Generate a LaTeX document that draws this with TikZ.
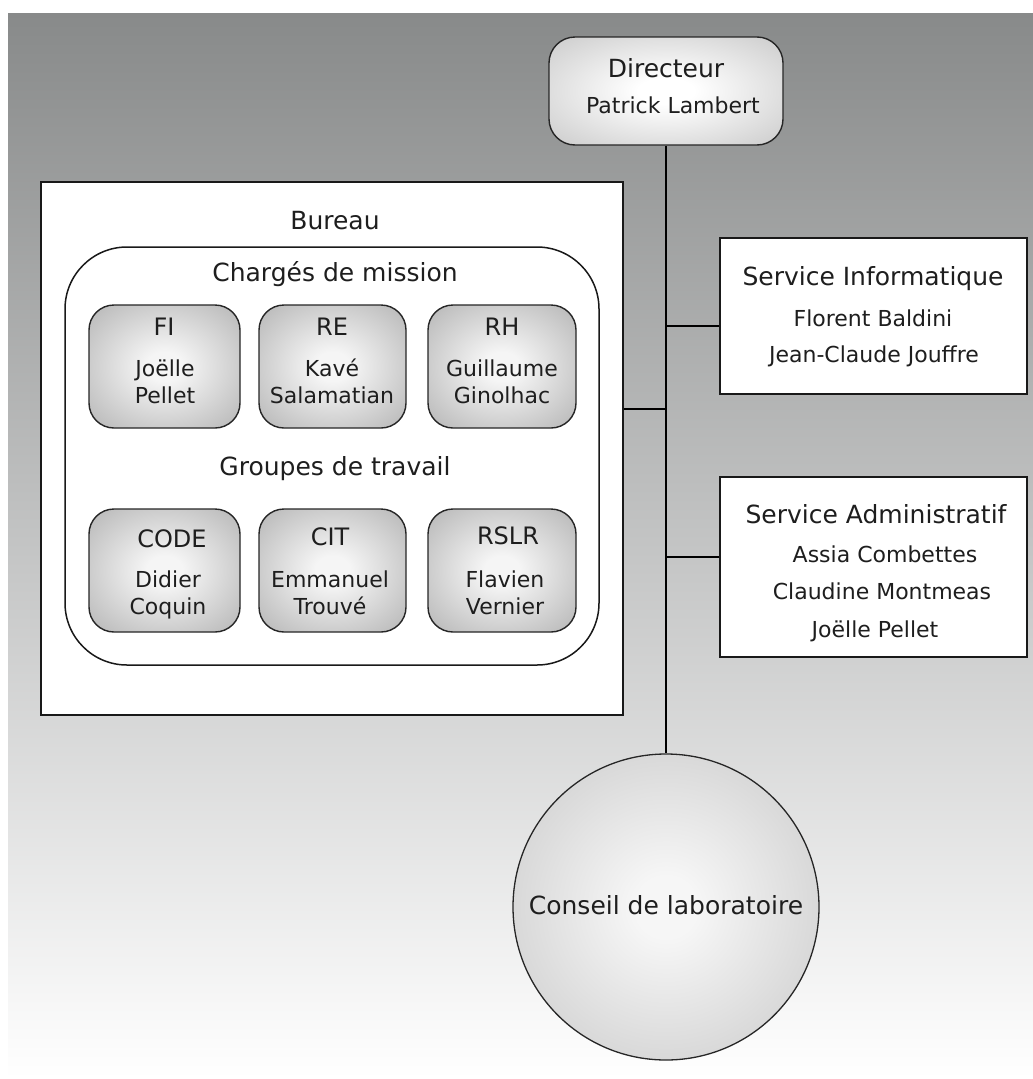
\documentclass[tikz,border=0pt]{standalone}
\usepackage{fontspec}
\setmainfont{DejaVu Sans}
\newcommand\fsz[1]{\fontsize{#1}{#1}\selectfont}
\definecolor{bgtop}{RGB}{136,138,138}
\definecolor{boxedge}{RGB}{150,150,150}
\definecolor{boxcorner}{RGB}{130,130,130}
\definecolor{boxmid}{RGB}{245,245,245}
\definecolor{diredge}{RGB}{178,178,178}
\definecolor{circedge}{RGB}{180,180,180}
\definecolor{circmid}{RGB}{246,246,246}
\definecolor{ink}{RGB}{30,30,30}
\pgfdeclareradialshading{boxrad}{\pgfpoint{0bp}{0bp}}{color(0bp)=(boxmid); color(6bp)=(boxmid); color(50bp)=(boxedge); color(72bp)=(boxcorner)}
\pgfdeclareradialshading{dirrad}{\pgfpoint{0bp}{0bp}}{color(0bp)=(white); color(6bp)=(white); color(50bp)=(diredge); color(72bp)=(boxedge)}
\pgfdeclareradialshading{circrad}{\pgfpoint{0bp}{0bp}}{color(0bp)=(circmid); color(5bp)=(circmid); color(50bp)=(circedge); color(72bp)=(circedge)}
\tikzset{
  shadedbox/.style={draw=black!85, line width=1.4pt, rounded corners=25pt, shading=boxrad,
    minimum width=151pt, minimum height=123pt, inner sep=0pt},
  dirbox/.style={draw=black!85, line width=1.4pt, rounded corners=26pt, shading=dirrad,
    minimum width=234pt, minimum height=108pt, inner sep=0pt},
  whitebox/.style={draw=black!90, line width=2pt, fill=white, inner sep=0pt},
  conn/.style={draw=black, line width=1.8pt},
  head/.style={inner sep=0pt, anchor=mid, text=ink, font=\fsz{25}},
  gname/.style={inner sep=0pt, anchor=mid, text=ink, font=\fsz{22}},
  abbr/.style={inner sep=0pt, anchor=mid, text=ink, font=\fsz{24}},
}
\begin{document}
\begin{tikzpicture}[x=1pt,y=-1pt]
\useasboundingbox (0,0) rectangle (1033,1079);
\shade[top color=bgtop, bottom color=white] (8,13) rectangle (1033,1079);

% Directeur
\node[dirbox] (dir) at (666,91) {};
\node[head] (dirT) at (666,75) {Directeur};
\node[gname] (dirN) at (673,111) {Patrick Lambert};

% Bureau
\node[whitebox, line width=2.4pt, minimum width=582pt, minimum height=533pt] (bureau) at (332,448.5) {};
\node[head] (bureauT) at (335,227) {Bureau};
\node[draw=black!90, line width=1.5pt, fill=white, rounded corners=62pt, minimum width=534pt, minimum height=418pt, inner sep=0pt] (inner) at (332,456) {};
\node[head] (cmT) at (335,279) {Chargés de mission};
\node[head] (gtT) at (335,473) {Groupes de travail};

% Charges de mission
\node[shadedbox] (fi) at (164.5,366.5) {};
\node[shadedbox, minimum width=147pt] (re) at (332.5,366.5) {};
\node[shadedbox, minimum width=148pt] (rh) at (502,366.5) {};
\node[abbr] (fiT) at (164,333) {FI};
\node[gname] (fiN1) at (165,374) {Joëlle};
\node[gname] (fiN2) at (165,401) {Pellet};
\node[abbr] (reT) at (332,333) {RE};
\node[gname] (reN1) at (332,374) {Kavé};
\node[gname] (reN2) at (332,401) {Salamatian};
\node[abbr] (rhT) at (502,333) {RH};
\node[gname] (rhN1) at (502,374) {Guillaume};
\node[gname] (rhN2) at (502,401) {Ginolhac};

% Groupes de travail
\node[shadedbox] (code) at (164.5,570.5) {};
\node[shadedbox, minimum width=147pt] (cit) at (332.5,570.5) {};
\node[shadedbox, minimum width=148pt] (rslr) at (502,570.5) {};
\node[abbr] (codeT) at (172,545) {CODE};
\node[gname] (codeN1) at (168,585) {Didier};
\node[gname] (codeN2) at (168,612) {Coquin};
\node[abbr] (citT) at (330,543) {CIT};
\node[gname] (citN1) at (330,585) {Emmanuel};
\node[gname] (citN2) at (330,612) {Trouvé};
\node[abbr] (rslrT) at (508,542) {RSLR};
\node[gname] (rslrN1) at (505,585) {Flavien};
\node[gname] (rslrN2) at (505,612) {Vernier};

% Services
\node[whitebox, minimum width=307pt, minimum height=156pt] (si) at (873.5,316) {};
\node[head] (siT) at (873,283) {Service Informatique};
\node[gname] (siN1) at (873,324) {Florent Baldini};
\node[gname] (siN2) at (874,360) {Jean-Claude Jouffre};

\node[whitebox, minimum width=307pt, minimum height=180pt] (sa) at (873.5,567) {};
\node[head] (saT) at (876,521) {Service Administratif};
\node[gname] (saN1) at (885,560) {Assia Combettes};
\node[gname] (saN2) at (882,597) {Claudine Montmeas};
\node[gname] (saN3) at (875,635) {Joëlle Pellet};

% Conseil
\node[circle, draw=black!85, line width=1.3pt, shading=circrad, minimum size=306pt, inner sep=0pt] (cl) at (666,907) {};
\node[head, anchor=center] (clT) at (666,905) {Conseil de laboratoire};

% Connectors
\coordinate (jsi) at (666,326);
\coordinate (jsa) at (666,557);
\coordinate (jbu) at (666,409);
\draw[conn] (dir.south) -- (cl.north);
\draw[conn] (jsi) -- (si.west |- jsi);
\draw[conn] (jsa) -- (sa.west |- jsa);
\draw[conn] (bureau.east |- jbu) -- (jbu);
\end{tikzpicture}
\end{document}
